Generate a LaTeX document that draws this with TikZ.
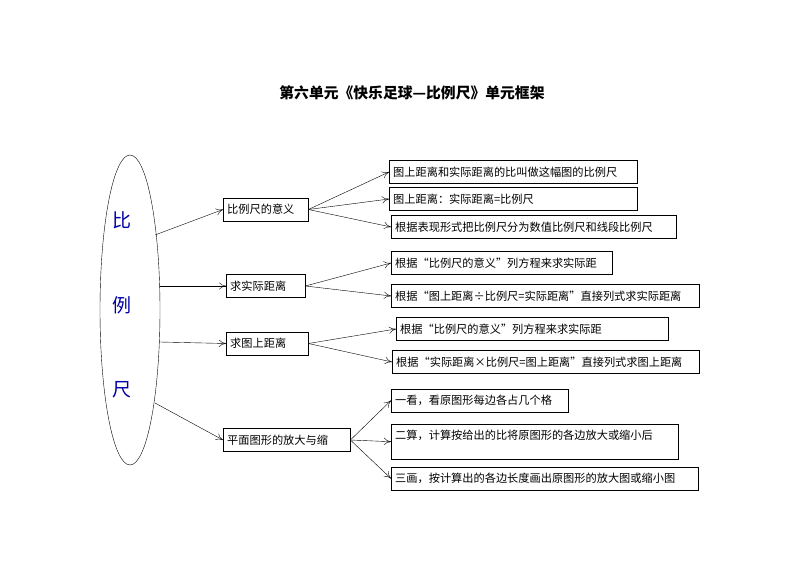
\documentclass[tikz,border=0pt]{standalone}
\usepackage{fontspec}
\newfontfamily\cjk{Noto Sans CJK SC}
\usetikzlibrary{arrows.meta}
\begin{document}
\begin{tikzpicture}[x=1pt,y=-1pt,
  box/.style={draw,thin,anchor=west,minimum height=23pt,inner sep=4pt,font=\cjk\fontsize{11.2}{13}\selectfont,align=left},
  arr/.style={-{To[length=7pt,width=7pt]},thin}]
\useasboundingbox (0,0) rectangle (794,561);
\node[font=\cjk\bfseries\fontsize{14.8}{16}\selectfont] (title) at (412,93) {第六单元《快乐足球—比例尺》单元框架};
\draw[thin] (130,310) ellipse [x radius=30, y radius=155];
\foreach \t/\y in {比/220,例/305,尺/390}{\node[font=\cjk\fontsize{19}{20}\selectfont,text=blue!65!black] at (122,\y) {\t};}
\node[box,text width=77pt] (m1) at (223,209.5) {比例尺的意义};
\node[box,text width=71pt] (m2) at (226,286) {求实际距离};
\node[box,text width=74pt] (m3) at (226,343.5) {求图上距离};
\node[box,text width=119pt] (m4) at (223,440) {平面图形的放大与缩};
\node[box,text width=240pt] (r1) at (389,172) {图上距离和实际距离的比叫做这幅图的比例尺};
\node[box,text width=240pt] (r2) at (389,199) {图上距离：实际距离=比例尺};
\node[box,text width=277pt] (r3) at (391,227) {根据表现形式把比例尺分为数值比例尺和线段比例尺};
\node[box,text width=213pt] (r4) at (391,263) {根据“比例尺的意义”列方程来求实际距};
\node[box,text width=300pt] (r5) at (391,296) {根据“图上距离÷比例尺=实际距离”直接列式求实际距离};
\node[box,text width=264pt] (r6) at (396,329) {根据“比例尺的意义”列方程来求实际距};
\node[box,text width=299pt] (r7) at (392,362) {根据“实际距离×比例尺=图上距离”直接列式求图上距离};
\node[box,text width=169pt] (r8) at (391,400.5) {一看，看原图形每边各占几个格};
\node[box,text width=279pt,minimum height=35pt,anchor=north west,text depth=14pt] (r9) at (391,424) {二算，计算按给出的比将原图形的各边放大或缩小后};
\node[box,text width=299pt] (r10) at (391,478.5) {三画，按计算出的各边长度画出原图形的放大图或缩小图};
\draw[arr] (155,235) -- (m1.west);
\draw[arr] (160,286) -- (m2.west);
\draw[arr] (160,342) -- (m3.west);
\draw[arr] (155,403) -- (m4.west);
\draw[arr] (m1.east) -- (r1.west);
\draw[arr] (m1.east) -- (r2.west);
\draw[arr] (m1.east) -- (r3.west);
\draw[arr] (m2.east) -- (r4.west);
\draw[arr] (m2.east) -- (r5.west);
\draw[arr] (m3.east) -- (r6.west);
\draw[arr] (m3.east) -- (r7.west);
\draw[arr] (m4.east) -- (r8.west);
\draw[arr] (m4.east) -- (r9.west);
\draw[arr] (m4.east) -- (r10.west);
\end{tikzpicture}
\end{document}
